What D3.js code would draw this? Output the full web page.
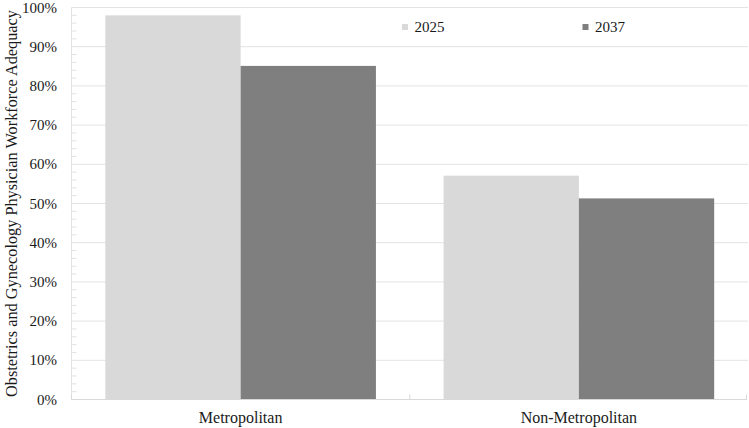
<!DOCTYPE html>
<html>
<head>
<meta charset="utf-8">
<script src="https://cdn.jsdelivr.net/npm/d3@7"></script>
<style>
  body { margin: 0; background: #fff; }
  text { font-family: "Liberation Serif", "Times New Roman", serif; fill: #1a1a1a; }
</style>
</head>
<body>
<svg id="chart" width="749" height="428"></svg>
<script>
let categories = ["Metropolitan", "Non-Metropolitan"];
let years = ["2025", "2037"];
let values2025 = [0.98, 0.571];
let values2037 = [0.851, 0.513];
let yTicks = [0, 0.1, 0.2, 0.3, 0.4, 0.5, 0.6, 0.7, 0.8, 0.9, 1.0];
let colors = ["#d9d9d9", "#7f7f7f"];

let svg = d3.select("#chart");
let margin = { left: 71.5, right: 1, top: 7.5, bottom: 28.5 };
let W = 749, H = 428;

let x = d3.scaleBand()
  .domain(categories)
  .range([margin.left, W - margin.right])
  .paddingInner(0.2)
  .paddingOuter(0.1);
let x1 = d3.scaleBand().domain(years).range([0, x.bandwidth()]);
let y = d3.scaleLinear().domain([0, 1]).range([H - margin.bottom, margin.top]);

// gridlines
svg.append("g").selectAll("line")
  .data(yTicks.slice(1))
  .join("line")
  .attr("x1", margin.left).attr("x2", W - margin.right)
  .attr("y1", d => y(d)).attr("y2", d => y(d))
  .attr("stroke", "#e3e3e3").attr("stroke-width", 1);

// minor ticks
let minor = d3.range(0, 1.0001, 0.02).filter(d => Math.round(d * 100) % 10 != 0);
svg.append("g").selectAll("line")
  .data(minor)
  .join("line")
  .attr("x1", margin.left).attr("x2", margin.left + 5)
  .attr("y1", d => y(d)).attr("y2", d => y(d))
  .attr("stroke", "#e3e3e3");

// y axis line
svg.append("line")
  .attr("x1", margin.left).attr("x2", margin.left)
  .attr("y1", y(0)).attr("y2", y(1))
  .attr("stroke", "#e3e3e3");

// bars
let rows = categories.map((c, i) => ({ cat: c, vals: [values2025[i], values2037[i]] }));
svg.append("g").selectAll("g")
  .data(rows)
  .join("g")
  .attr("transform", d => `translate(${x(d.cat)},0)`)
  .selectAll("rect")
  .data(d => d.vals.map((v, j) => ({ year: years[j], v: v, j: j })))
  .join("rect")
  .attr("x", d => x1(d.year))
  .attr("width", x1.bandwidth())
  .attr("y", d => y(d.v))
  .attr("height", d => y(0) - y(d.v))
  .attr("fill", d => colors[d.j]);

// x axis line + category separators
svg.append("line")
  .attr("x1", margin.left).attr("x2", W - margin.right - 1)
  .attr("y1", y(0)).attr("y2", y(0))
  .attr("stroke", "#d9d9d9");
let seps = [margin.left, (x(categories[0]) + x.bandwidth() + x(categories[1])) / 2, W - margin.right - 1.5];
svg.append("g").selectAll("line")
  .data(seps)
  .join("line")
  .attr("x1", d => d).attr("x2", d => d)
  .attr("y1", y(0)).attr("y2", y(0) - 5)
  .attr("stroke", "#d9d9d9");

// y tick labels
svg.append("g").selectAll("text")
  .data(yTicks)
  .join("text")
  .attr("x", 57)
  .attr("y", d => y(d) + 5)
  .attr("text-anchor", "end")
  .style("font-size", "15px")
  .text(d => d3.format(".0%")(d));

// x labels
svg.append("g").selectAll("text")
  .data(categories)
  .join("text")
  .attr("x", d => x(d) + x.bandwidth() / 2)
  .attr("y", 423)
  .attr("text-anchor", "middle")
  .style("font-size", "16px")
  .text(d => d);

// y title
svg.append("text")
  .attr("transform", `translate(16.5,${(y(0) + y(1)) / 2}) rotate(-90)`)
  .attr("text-anchor", "middle")
  .style("font-size", "16.3px")
  .text("Obstetrics and Gynecology Physician Workforce Adequacy");

// legend
let legX = [402, 582.5];
let leg = svg.append("g").selectAll("g")
  .data(years)
  .join("g")
  .attr("transform", (d, i) => `translate(${legX[i]},24)`);
leg.append("rect").attr("width", 6).attr("height", 6).attr("fill", (d, i) => colors[i]);
leg.append("text").attr("x", 12.5).attr("y", 7.5).style("font-size", "15px").text(d => d);
</script>
</body>
</html>
